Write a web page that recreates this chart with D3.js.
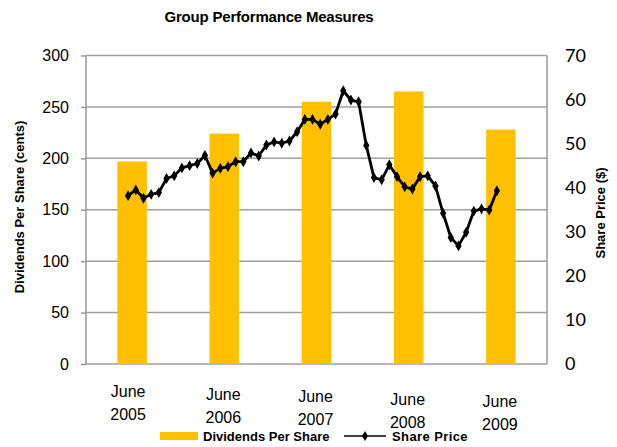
<!DOCTYPE html>
<html>
<head>
<meta charset="utf-8">
<script src="https://cdn.jsdelivr.net/npm/d3@7"></script>
<style>
  body { margin: 0; background: #fff; }
  text { font-family: "Liberation Sans", Arial, sans-serif; fill: #000; }
</style>
</head>
<body>
<div id="chart"></div>
<script>
const years = ['2005', '2006', '2007', '2008', '2009'];
const dividends = [197, 224, 255, 265, 228];
// monthly share price ($), June 2005 .. June 2009
const sharePrice = [
    38.2, 39.5, 37.6, 38.5, 38.9, 42.1, 42.7, 44.5, 45.0, 45.5, 47.3, 43.3,
    44.4, 44.8, 45.9, 45.9, 47.9, 47.2, 49.7, 50.4, 50.1, 50.6, 52.7, 55.5,
    55.5, 54.4, 55.5, 56.7, 62.0, 59.9, 59.5, 49.6, 42.3, 41.8, 45.2, 42.5,
    40.2, 39.7, 42.5, 42.7, 40.4, 34.2, 28.7, 26.8, 29.9, 34.7, 35.2, 34.9,
    39.3
];
const leftTicks = [0, 50, 100, 150, 200, 250, 300];
const rightTicks = [0, 10, 20, 30, 40, 50, 60, 70];

function canvas() {
    const width = 617, height = 447;
    const plot = {left: 86, right: 547, top: 55.5, bottom: 364};

    const svg = d3.select("#chart")
        .append("svg")
            .attr("width", width)
            .attr("height", height);

    const xScale = d3.scaleBand()
        .domain(years)
        .range([plot.left, plot.right])
        .paddingInner(0.68)
        .paddingOuter(0.34);

    const yLeft = d3.scaleLinear().domain([0, 300]).range([plot.bottom, plot.top]);
    const yRight = d3.scaleLinear().domain([0, 70]).range([plot.bottom, plot.top]);

    return { svg, plot, xScale, yLeft, yRight };
}

function drawAxes(svg, plot, xScale, yLeft, yRight) {
    // gridlines + left axis
    const left = svg.append("g")
        .attr("transform", "translate(" + plot.left + ",0)")
        .call(d3.axisLeft(yLeft).tickValues(leftTicks).tickSize(5).tickPadding(12));
    left.select(".domain").remove();
    left.selectAll(".tick line").attr("stroke", "#999").attr("stroke-width", 1.5);
    left.selectAll(".tick text")
        .style("font-size", "16px")
        .style("font-family", "'Liberation Sans', Arial, sans-serif");

    svg.append("g")
        .selectAll("line")
        .data(leftTicks)
        .enter().append("line")
            .attr("x1", plot.left)
            .attr("x2", plot.right)
            .attr("y1", d => yLeft(d))
            .attr("y2", d => yLeft(d))
            .attr("stroke", "#a0a0a0")
            .attr("stroke-width", 1.5);

    // frame sides
    svg.append("line")
        .attr("x1", plot.left).attr("x2", plot.left)
        .attr("y1", plot.top).attr("y2", plot.bottom)
        .attr("stroke", "#999").attr("stroke-width", 1.5);
    svg.append("line")
        .attr("x1", plot.right).attr("x2", plot.right)
        .attr("y1", plot.top).attr("y2", plot.bottom)
        .attr("stroke", "#999").attr("stroke-width", 1.5);

    // right axis labels
    svg.append("g")
        .selectAll("text")
        .data(rightTicks)
        .enter().append("text")
            .attr("x", 565)
            .attr("y", d => yRight(d))
            .attr("dy", "0.36em")
            .style("font-family", "Lato, 'Open Sans', sans-serif")
            .style("font-size", "18px")
            .text(d => d);

    // x labels, two lines, slightly stepped down like the original
    const xl = svg.append("g")
        .selectAll("text")
        .data(years)
        .enter().append("text")
            .attr("text-anchor", "middle")
            .attr("transform", (d, i) => "translate(" + (xScale(d) + xScale.bandwidth() / 2 - (i === 0 ? 4 : 1)) + "," + (397 + i * 2.6) + ")")
            .style("font-size", "16px");
    xl.append("tspan").attr("x", 0).attr("y", 0).text("June");
    xl.append("tspan").attr("x", 0).attr("y", 23).text(d => d);
}

function drawMarks(svg, plot, xScale, yLeft, yRight) {
    svg.append("g")
        .selectAll("rect")
        .data(years)
        .enter().append("rect")
            .attr("x", d => xScale(d))
            .attr("width", xScale.bandwidth())
            .attr("y", (d, i) => yLeft(dividends[i]))
            .attr("height", (d, i) => plot.bottom - yLeft(dividends[i]))
            .style("fill", "#FFC000");

    const step = xScale.step();
    const c0 = xScale(years[0]) + xScale.bandwidth() / 2 - 4;
    const xMonth = d3.scaleLinear()
        .domain([0, 12])
        .range([c0, c0 + step]);

    const line = d3.line()
        .x((d, i) => xMonth(i))
        .y(d => yRight(d));

    svg.append("path")
        .datum(sharePrice)
        .attr("d", line)
        .attr("fill", "none")
        .attr("stroke", "#000")
        .attr("stroke-width", 2.8)
        .attr("stroke-linejoin", "round");

    const diamond = d3.symbol().type(d3.symbolDiamond).size(34);
    svg.append("g")
        .selectAll("path")
        .data(sharePrice)
        .enter().append("path")
            .attr("d", diamond)
            .attr("transform", (d, i) => "translate(" + xMonth(i) + "," + yRight(d) + ")")
            .attr("fill", "#000");
}

function drawTexts(svg) {
    svg.append("text")
        .attr("x", 269)
        .attr("y", 22)
        .attr("text-anchor", "middle")
        .style("font-size", "15px")
        .style("font-weight", "bold")
        .style("letter-spacing", "-0.2px")
        .text("Group Performance Measures");

    svg.append("text")
        .attr("transform", "translate(24,207) rotate(-90)")
        .attr("text-anchor", "middle")
        .style("font-size", "13px")
        .style("font-weight", "bold")
        .text("Dividends Per Share (cents)");

    svg.append("text")
        .attr("transform", "translate(605,213) rotate(-90)")
        .attr("text-anchor", "middle")
        .style("font-size", "13px")
        .style("font-weight", "bold")
        .text("Share Price ($)");

    // Legend
    const lg = svg.append("g");
    lg.append("rect")
        .attr("x", 160).attr("y", 432)
        .attr("width", 38).attr("height", 8)
        .style("fill", "#FFC000");
    lg.append("text")
        .attr("x", 203).attr("y", 441)
        .style("font-size", "13px")
        .style("font-weight", "bold")
        .text("Dividends Per Share");
    lg.append("line")
        .attr("x1", 344).attr("x2", 386)
        .attr("y1", 436).attr("y2", 436)
        .attr("stroke", "#000").attr("stroke-width", 1.5);
    lg.append("path")
        .attr("d", d3.symbol().type(d3.symbolDiamond).size(30))
        .attr("transform", "translate(365,436)");
    lg.append("text")
        .attr("x", 392).attr("y", 441)
        .style("font-size", "13px")
        .style("font-weight", "bold")
        .style("letter-spacing", "0.4px")
        .text("Share Price");
}

function main() {
    const { svg, plot, xScale, yLeft, yRight } = canvas();
    svg.append("rect").attr("width", 617).attr("height", 447).attr("fill", "#fff");
    drawAxes(svg, plot, xScale, yLeft, yRight);
    drawMarks(svg, plot, xScale, yLeft, yRight);
    drawTexts(svg);
}

main();
</script>
</body>
</html>
